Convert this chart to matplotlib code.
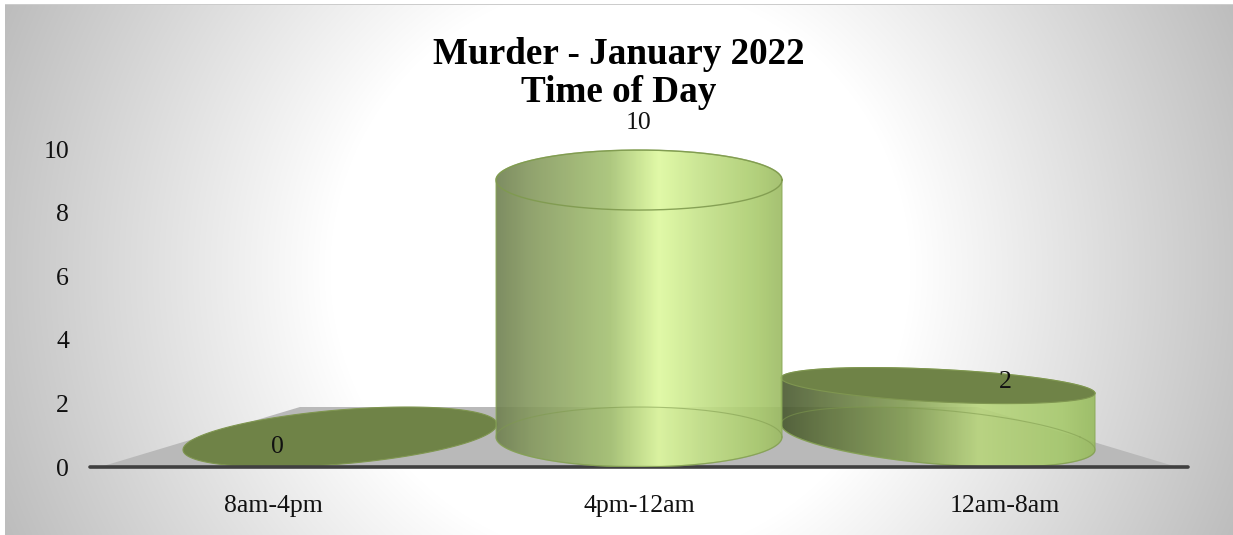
import numpy as np
import matplotlib
matplotlib.use("Agg")
import matplotlib.pyplot as plt
from matplotlib.colors import LinearSegmentedColormap
from matplotlib.patches import Polygon, PathPatch
from matplotlib.path import Path

categories = ["8am-4pm", "4pm-12am", "12am-8am"]
values = [0, 10, 2]
y_ticks = [0, 2, 4, 6, 8, 10]
title = "Murder - January 2022\nTime of Day"

W, H = 1233, 535
plt.rcParams["font.family"] = ["Liberation Serif", "DejaVu Serif"]
fig = plt.figure(figsize=(W / 100, H / 100), dpi=100, facecolor="white")

# background radial gradient
bg = fig.add_axes([0, 0, 1, 1], zorder=0)
bg.axis("off")
yy, xx = np.mgrid[0:H, 0:W]
r = np.hypot(xx - 620, yy - 270)
shade = 1 - np.clip((r - 290) / 350, 0, 1.2) * 0.24
img = np.dstack([shade] * 3)
img[:, :5] = 1
img[:4, :] = 1
img[4:5, 5:] = 0.8
bg.imshow(img, extent=(0, W, H, 0), aspect="auto", interpolation="nearest")
bg.set_xlim(0, W)
bg.set_ylim(H, 0)

# plot axes: x 90..1188 px, y 467..149 px
L, R, B, T = 90, 1188, 467, 149
ax = fig.add_axes([L / W, 1 - B / H, (R - L) / W, (B - T) / H], zorder=1)
ax.patch.set_alpha(0)
ax.set_xlim(-0.5, 2.5)
ax.set_ylim(0, 10)
PX = (R - L) / 3        # px per x unit
PY = (B - T) / 10       # px per y unit
for s in ("top", "left", "right"):
    ax.spines[s].set_visible(False)
ax.spines["bottom"].set_color("#404040")
ax.spines["bottom"].set_linewidth(2.6)
ax.spines["bottom"].set_capstyle("round")
ax.spines["bottom"].set_zorder(6)
ax.set_xticks(range(len(categories)), categories)
ax.set_yticks(y_ticks)
ax.tick_params(length=0, labelsize=18.5, colors="#111111")
ax.tick_params(axis="x", pad=20)
ax.tick_params(axis="y", pad=15)

# floor
DEPTH = 60 / PY              # floor depth in y units
INSET = 200 / PX             # back edge inset in x units
FL, FR = -0.5 + 10 / PX, 2.5 - 11 / PX
ax.add_patch(Polygon([(FL, 0), (FL + INSET, DEPTH), (FR - INSET, DEPTH), (FR, 0)],
                     closed=True, fc="#b9b9b9", ec="none", zorder=1))

RISE = 0.808          # projected height per value unit
MID = DEPTH / 2
RADIUS = 157 / PX
LEAN = 67 / PX


def ellipse(i, level, half_depth, t):
    """Sheared circle at category i, front point above the category position."""
    lean = (1 - i) * LEAN
    half_w = np.sqrt(RADIUS ** 2 - lean ** 2) if i != 1 else 143 / PX
    x = i + lean + half_w * np.cos(t) + lean * np.sin(t)
    y = level + half_depth * np.sin(t)
    return x, y


def t_right(i):
    lean = (1 - i) * LEAN
    half_w = np.sqrt(RADIUS ** 2 - lean ** 2) if i != 1 else 143 / PX
    return np.arctan2(lean, half_w)


cmap_dark = LinearSegmentedColormap.from_list(
    "dark", [(0, "#48582f"), (0.12, "#5c6f3a"), (0.40, "#849e54"), (0.63, "#b9d67d"),
             (0.9, "#a6c96b"), (1, "#98bb5e")])
cmap_mid = LinearSegmentedColormap.from_list(
    "mid", [(0, "#6f8050"), (0.12, "#85995e"), (0.40, "#a5c272"), (0.50, "#c6e38a"),
            (0.57, "#def99e"), (0.72, "#c4e288"), (0.92, "#a9ca6c"), (1, "#9cbb63")])
grad = np.linspace(0, 1, 256)[None, :]
tall = np.linspace(0, 2 * np.pi, 361)

for i, v in enumerate(values):
    z = 10 if v == max(values) else 3
    top = MID + v * RISE
    back_half = 30 / PY
    top_half = back_half if v == 0 or v == max(values) else 18 / PY
    xb, yb = ellipse(i, MID, back_half, tall)
    xt, yt = ellipse(i, top, top_half, tall)
    t0 = t_right(i)
    if v > 0:
        xu, yu = ellipse(i, top, top_half, np.linspace(t0, t0 + np.pi, 181))
        xl, yl = ellipse(i, MID, back_half, np.linspace(t0 + np.pi, t0 + 2 * np.pi, 181))
        poly = np.vstack([np.column_stack([xu, yu]), np.column_stack([xl, yl])])
        clip = PathPatch(Path(np.vstack([poly, poly[:1]])), fc="none", ec="none",
                         transform=ax.transData)
        ax.add_patch(clip)
        cmap = cmap_mid if v == max(values) else cmap_dark
        im = ax.imshow(grad, extent=(xb.min(), xb.max(), 0, top + top_half), aspect="auto",
                       cmap=cmap, alpha=0.9, zorder=z, interpolation="bilinear")
        im.set_clip_path(clip)
        ax.plot(np.append(poly[:, 0], poly[0, 0]), np.append(poly[:, 1], poly[0, 1]),
                color="#8aa858", lw=0.9, alpha=0.75, zorder=z + 1)
        ax.plot(xb, yb, color="#7f9a4e", lw=0.8, alpha=0.55, zorder=z + 1)
    if v == max(values):
        ax.plot(xt, yt, color="#7f9a4e", lw=1.0, alpha=0.9, zorder=z + 2, clip_on=False)
    else:
        ax.fill(xt, yt, fc="#6f8347", ec="#7f9650", lw=0.8, zorder=z + 2)
    ax.text(i + (0.011 if v == 0 else 0), v * 1.02 + 0.62, str(v), ha="center", va="center",
            fontsize=18.5, color="#111111", zorder=20, clip_on=False)

ax.set_xlim(-0.5, 2.5)
ax.set_ylim(0, 10)

fig.text(619 / W, 1 - 37 / H, title, ha="center", va="top", fontsize=26.7,
         fontweight="bold", color="black", linespacing=1.11, zorder=5)

fig.savefig("out.png", dpi=100)
